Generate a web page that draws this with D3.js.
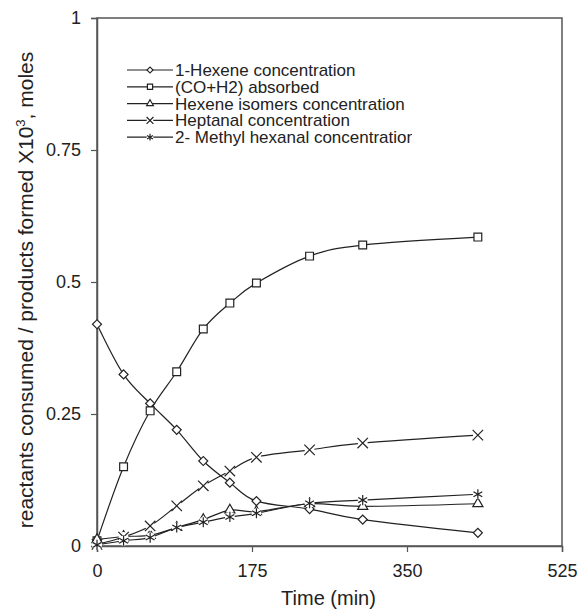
<html>
<head>
<script src="https://d3js.org/d3.v7.min.js"></script>
<style>
  body { margin: 0; background: #fff; }
  text { font-family: "Liberation Sans", Arial, sans-serif; fill: #222; }
</style>
</head>
<body>
<svg id="chart"></svg>
<script>
var times = [0, 30, 60, 90, 120, 150, 180, 240, 300, 430];
var hexene = [0.42, 0.325, 0.27, 0.22, 0.161, 0.12, 0.085, 0.07, 0.05, 0.025];
var absorbed = [0.01, 0.15, 0.256, 0.33, 0.411, 0.46, 0.498, 0.549, 0.57, 0.585];
var isomers = [0.012, 0.018, 0.02, 0.035, 0.05, 0.068, 0.065, 0.08, 0.075, 0.08];
var heptanal = [0.003, 0.017, 0.038, 0.076, 0.114, 0.142, 0.168, 0.182, 0.195, 0.21];
var methyl = [0.002, 0.01, 0.016, 0.035, 0.045, 0.055, 0.062, 0.081, 0.087, 0.098];
var seriesNames = ["1-Hexene concentration", "(CO+H2) absorbed", "Hexene isomers concentration",
                   "Heptanal concentration", "2- Methyl hexanal concentration"];
var xTicks = [0, 175, 350, 525];
var yTicks = [0, 0.25, 0.5, 0.75, 1];

var W = 578, H = 614;
var plotLeft = 97, plotRight = 562, plotTop = 18, plotBottom = 546;
var svg = d3.select("#chart").attr("width", W).attr("height", H);

var x = d3.scaleLinear().domain([0, 525]).range([plotLeft, plotRight]);
var y = d3.scaleLinear().domain([0, 1]).range([plotBottom, plotTop]);

var series = [
  { name: seriesNames[0], values: hexene, marker: "diamond" },
  { name: seriesNames[1], values: absorbed, marker: "square" },
  { name: seriesNames[2], values: isomers, marker: "triangle" },
  { name: seriesNames[3], values: heptanal, marker: "x" },
  { name: seriesNames[4], values: methyl, marker: "star" }
];

function markerPath(type, s) {
  if (type == "diamond") return d3.symbol(d3.symbolSquare, s * s * 0.5)();
  if (type == "square") return d3.symbol(d3.symbolSquare, s * s * 0.75)();
  if (type == "triangle") return d3.symbol(d3.symbolTriangle, s * s * 0.55)();
  if (type == "x") return d3.symbol(d3.symbolX, s * s * 0.9)();
  return d3.symbol(d3.symbolAsterisk, s * s * 0.9)();
}
function drawMarker(g, type, s) {
  var hollow = (type == "diamond" || type == "square" || type == "triangle");
  if (!hollow) {
    g.append("circle").attr("r", s * 0.55).attr("fill", "#fff");
  }
  g.append("path")
    .attr("d", markerPath(type, s))
    .attr("transform", type == "diamond" ? "rotate(45)" : null)
    .attr("fill", hollow ? "#fff" : "none")
    .attr("stroke", "#222")
    .attr("stroke-width", 1.2);
}

// frame
svg.append("rect")
  .attr("x", plotLeft).attr("y", plotTop)
  .attr("width", plotRight - plotLeft).attr("height", plotBottom - plotTop)
  .attr("fill", "none").attr("stroke", "#555").attr("stroke-width", 1.5);

// axes
var gx = svg.append("g")
  .attr("transform", "translate(0," + plotBottom + ")")
  .call(d3.axisBottom(x).tickValues(xTicks).tickSize(6).tickPadding(12).tickFormat(d3.format("d")));
var gy = svg.append("g")
  .attr("transform", "translate(" + plotLeft + ",0)")
  .call(d3.axisLeft(y).tickValues(yTicks).tickSize(6).tickPadding(10).tickFormat(function (d) { return String(d); }));
[gx, gy].forEach(function (g) {
  g.select(".domain").attr("stroke", "#555").attr("stroke-width", 1.5);
  g.selectAll(".tick line").attr("stroke", "#555").attr("stroke-width", 1.2);
  g.selectAll(".tick text").attr("font-size", 18).attr("fill", "#222")
    .style("font-family", "'Liberation Sans', Arial, sans-serif");
});

// lines
var line = d3.line()
  .x(function (d) { return x(d[0]); })
  .y(function (d) { return y(d[1]); })
  .curve(d3.curveCatmullRom.alpha(0));

series.forEach(function (s) {
  var pts = times.map(function (t, i) { return [t, s.values[i]]; });
  svg.append("path")
    .attr("d", line(pts))
    .attr("fill", "none")
    .attr("stroke", "#222")
    .attr("stroke-width", 1.2);
});
series.forEach(function (s) {
  times.forEach(function (t, i) {
    var g = svg.append("g").attr("transform", "translate(" + x(t) + "," + y(s.values[i]) + ")");
    drawMarker(g, s.marker, 9);
  });
});

// axis titles
svg.append("text")
  .attr("x", (plotLeft + plotRight) / 2 - 1).attr("y", 605)
  .attr("text-anchor", "middle").attr("font-size", 20)
  .text("Time (min)");

var yt = svg.append("text")
  .attr("transform", "translate(33," + 290 + ") rotate(-90)")
  .attr("text-anchor", "middle").attr("font-size", 21);
yt.append("tspan").text("reactants consumed / products formed X10");
yt.append("tspan").attr("dy", -8).attr("font-size", 13).text("3");
yt.append("tspan").attr("dy", 8).text(", moles");

// legend
svg.append("clipPath").attr("id", "legclip")
  .append("rect").attr("x", 120).attr("y", 55).attr("width", 292).attr("height", 100);
var leg = svg.append("g").attr("clip-path", "url(#legclip)");
series.forEach(function (s, i) {
  var ly = 70 + i * 16.8;
  var row = leg.append("g").attr("transform", "translate(0," + ly + ")");
  row.append("line").attr("x1", 127).attr("x2", 173).attr("y1", 0).attr("y2", 0)
    .attr("stroke", "#222").attr("stroke-width", 1.2);
  var mg = row.append("g").attr("transform", "translate(150,0)");
  drawMarker(mg, s.marker, 6);
  row.append("text").attr("x", 175).attr("y", 6).attr("font-size", 17).text(s.name);
});
</script>
</body>
</html>
